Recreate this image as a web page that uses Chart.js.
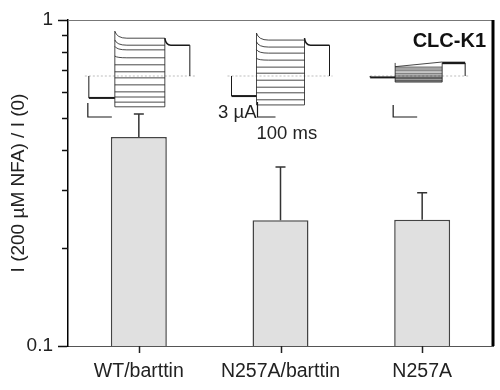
<!DOCTYPE html>
<html>
<head>
<meta charset="utf-8">
<script src="https://cdn.jsdelivr.net/npm/chart.js@4/dist/chart.umd.min.js"></script>
<style>
  html, body { margin: 0; padding: 0; background: #fff; }
  #wrap { width: 500px; height: 390px; position: relative; }
</style>
</head>
<body>
<div id="wrap"><canvas id="myChart"></canvas></div>
<script>
// Log-scale bar chart of NFA block, with current-trace insets

const categories = ['WT/barttin', 'N257A/barttin', 'N257A'];
const ratios = [0.438, 0.243, 0.244];
const errUpper = [0.515, 0.354, 0.295];
const majorTicks = [0.1, 1];
const minorTicks = [0.2, 0.3, 0.4, 0.5, 0.6, 0.7, 0.8, 0.9];

// inset traces, steady-state current per voltage step (µA)
const stepsWT = [8.1, 6.6, 5.6, 3.9, 2.4, 0.9, -0.4, -1.9, -3.4, -4.5, -5.6, -6.6];
const stepsMutB = [7.7, 6.2, 4.9, 3.4, 1.9, 0.6, -0.9, -2.4, -3.6, -5.1, -6.2];
const stepsMut = [2.8, 1.9, 1.5, 1.1, 0.6, 0.2, -0.2, -0.4, -0.6, -0.9, -1.1, -1.3];
const holdingUA = [-4.7, -4.3, -0.3];
const tailUA = [6.6, 6.6, 2.8];

const fontFam = "'Liberation Sans', Arial, sans-serif";

// layout of each inset, offsets from the bar centre (px)
const insetLayout = [
  { steps: stepsWT, zl: -54, zr: 56, x0: -50, x1: -24, x2: 26, x3: 51, peak: 1.5, barX: -51, barW: 24, barH: 14, slow: false },
  { steps: stepsMutB, zl: -53, zr: 52, x0: -49, x1: -24, x2: 24, x3: 49, peak: 1.5, barX: -23, barW: 18, barH: 15, slow: false },
  { steps: stepsMut, zl: -52, zr: 48, x0: -52, x1: -27, x2: 20, x3: 43, peak: 0, barX: -29, barW: 24, barH: 12, slow: true }
];

const insetPlugin = {
  id: 'insets',
  afterDatasetsDraw(chart) {
    const {ctx, chartArea, scales: {x}} = chart;
    const zeroY = chartArea.top + 56;
    const k = 14 / 3;
    ctx.save();
    insetLayout.forEach((ins, i) => {
      const cx = x.getPixelForValue(i);
      const X = d => cx + d;
      const Y = ua => zeroY - ua * k;
      // zero line
      ctx.setLineDash([2, 2]);
      ctx.strokeStyle = '#bdbdbd';
      ctx.lineWidth = 1;
      ctx.beginPath();
      ctx.moveTo(X(ins.zl), zeroY); ctx.lineTo(X(ins.zr), zeroY);
      ctx.stroke();
      ctx.setLineDash([]);
      ctx.strokeStyle = '#1a1a1a';
      // holding segment
      ctx.lineWidth = 1;
      ctx.beginPath();
      ctx.moveTo(X(ins.x0), zeroY); ctx.lineTo(X(ins.x0), Y(holdingUA[i]));
      ctx.stroke();
      ctx.lineWidth = 2;
      ctx.beginPath();
      ctx.moveTo(X(ins.x0), Y(holdingUA[i])); ctx.lineTo(X(ins.x1), Y(holdingUA[i]));
      ctx.stroke();
      // step family
      const top = Math.max(...ins.steps), bot = Math.min(...ins.steps);
      ctx.lineWidth = 0.8;
      ctx.beginPath();
      ctx.moveTo(X(ins.x1), Y(top + ins.peak)); ctx.lineTo(X(ins.x1), Y(bot));
      ctx.moveTo(X(ins.x2), Y(tailUA[i] + ins.peak)); ctx.lineTo(X(ins.x2), Y(bot));
      ctx.stroke();
      ins.steps.forEach((v, j) => {
        ctx.beginPath();
        if (ins.slow && j === 0) {
          ctx.moveTo(X(ins.x1), Y(v - 0.8));
          ctx.lineTo(X(ins.x2), Y(v + 0.2));
        } else if (ins.peak && j < 4) {
          const p = ins.peak * (1 - j * 0.25);
          ctx.moveTo(X(ins.x1), Y(v + p));
          ctx.quadraticCurveTo(X(ins.x1 + 2), Y(v), X(ins.x1 + 12), Y(v));
          ctx.lineTo(X(ins.x2), Y(v));
        } else {
          ctx.moveTo(X(ins.x1), Y(v));
          ctx.lineTo(X(ins.x2), Y(v));
        }
        ctx.stroke();
      });
      // tail
      ctx.lineWidth = ins.slow ? 2.5 : 1.5;
      ctx.beginPath();
      ctx.moveTo(X(ins.x2), Y(tailUA[i] + ins.peak));
      ctx.quadraticCurveTo(X(ins.x2 + 1), Y(tailUA[i]), X(ins.x2 + 6), Y(tailUA[i]));
      ctx.lineTo(X(ins.x3), Y(tailUA[i]));
      ctx.stroke();
      ctx.lineWidth = 1;
      ctx.beginPath();
      ctx.moveTo(X(ins.x3), Y(tailUA[i])); ctx.lineTo(X(ins.x3), zeroY);
      ctx.stroke();
      // scale bar
      const sb = zeroY + 41;
      ctx.lineWidth = 1.2;
      ctx.beginPath();
      ctx.moveTo(X(ins.barX), sb - ins.barH);
      ctx.lineTo(X(ins.barX), sb);
      ctx.lineTo(X(ins.barX + ins.barW), sb);
      ctx.stroke();
      if (i === 1) {
        ctx.fillStyle = '#222';
        ctx.font = '18.5px ' + fontFam;
        ctx.textAlign = 'right';
        ctx.textBaseline = 'alphabetic';
        ctx.fillText('3 µA', X(ins.barX - 1), sb + 1);
        ctx.textAlign = 'left';
        ctx.textBaseline = 'middle';
        ctx.fillText('100 ms', X(ins.barX - 1), sb + 17);
      }
    });
    ctx.restore();
  }
};

const errorPlugin = {
  id: 'errorBars',
  afterDatasetsDraw(chart) {
    const {ctx, scales: {x, y}} = chart;
    ctx.save();
    ctx.strokeStyle = '#333';
    ctx.lineWidth = 1.5;
    errUpper.forEach((e, i) => {
      const px = x.getPixelForValue(i);
      const y0 = y.getPixelForValue(ratios[i]);
      const y1 = y.getPixelForValue(e);
      ctx.beginPath();
      ctx.moveTo(px, y0); ctx.lineTo(px, y1);
      ctx.moveTo(px - 5, y1); ctx.lineTo(px + 5, y1);
      ctx.stroke();
    });
    ctx.restore();
  }
};

const framePlugin = {
  id: 'frame',
  afterDraw(chart) {
    const {ctx, chartArea: a, scales: {x, y}} = chart;
    ctx.save();
    // minor y ticks
    ctx.strokeStyle = '#111';
    ctx.lineWidth = 1.5;
    minorTicks.forEach(v => {
      const py = Math.round(y.getPixelForValue(v)) + 0.5;
      ctx.beginPath();
      ctx.moveTo(a.left - 6, py); ctx.lineTo(a.left, py);
      ctx.stroke();
    });
    // x ticks at category centres
    ctx.strokeStyle = '#222';
    ctx.lineWidth = 1.5;
    categories.forEach((c, i) => {
      const px = Math.round(x.getPixelForValue(i)) + 0.5;
      ctx.beginPath();
      ctx.moveTo(px, a.bottom); ctx.lineTo(px, a.bottom + 7);
      ctx.stroke();
    });
    // top and right frame
    ctx.strokeStyle = '#777';
    ctx.lineWidth = 1;
    ctx.beginPath();
    ctx.moveTo(a.left, a.top + 0.5); ctx.lineTo(a.right, a.top + 0.5);
    ctx.stroke();
    ctx.strokeStyle = '#000';
    ctx.lineWidth = 3;
    ctx.beginPath();
    ctx.moveTo(a.right, a.top); ctx.lineTo(a.right, a.bottom);
    ctx.stroke();
    // label
    ctx.fillStyle = '#111';
    ctx.font = 'bold 20px ' + fontFam;
    ctx.textAlign = 'right';
    ctx.textBaseline = 'middle';
    ctx.fillText('CLC-K1', a.right - 7, a.top + 21);
    ctx.restore();
  }
};

let ctx = document.getElementById('myChart').getContext('2d');
let myChart = new Chart(ctx, {
  type: 'bar',
  data: {
    labels: categories,
    datasets: [{
      label: 'I(200 µM NFA)/I(0)',
      data: ratios,
      backgroundColor: '#e0e0e0',
      borderColor: '#444',
      borderWidth: 1.5,
      barPercentage: 0.395,
      categoryPercentage: 1
    }]
  },
  options: {
    responsive: true,
    maintainAspectRatio: false,
    animation: false,
    layout: { padding: { top: 20, right: 7, left: 0, bottom: 0 } },
    plugins: { legend: { display: false }, tooltip: { enabled: false } },
    scales: {
      x: {
        afterFit: s => { s.height = 44; },
        grid: { display: false },
        border: { display: true, color: '#555', width: 1 },
        ticks: { color: '#222', font: { family: fontFam, size: 19.5 }, padding: 6 }
      },
      y: {
        type: 'logarithmic',
        min: 0.1,
        max: 1,
        afterFit: s => { s.width = 68; },
        afterBuildTicks: s => { s.ticks = majorTicks.map(v => ({ value: v, major: true })); },
        grid: { drawOnChartArea: false, tickLength: 10, tickColor: '#111', tickWidth: 1.5 },
        border: { color: '#000', width: 1.5 },
        ticks: {
          color: '#222',
          font: { family: fontFam, size: 19 },
          padding: 5,
          callback: v => String(v)
        },
        title: {
          display: true,
          text: 'I (200 µM NFA) / I (0)',
          color: '#222',
          font: { family: fontFam, size: 19 },
          padding: { top: 7, bottom: 0 }
        }
      }
    }
  },
  plugins: [insetPlugin, errorPlugin, framePlugin]
});
</script>
</body>
</html>
